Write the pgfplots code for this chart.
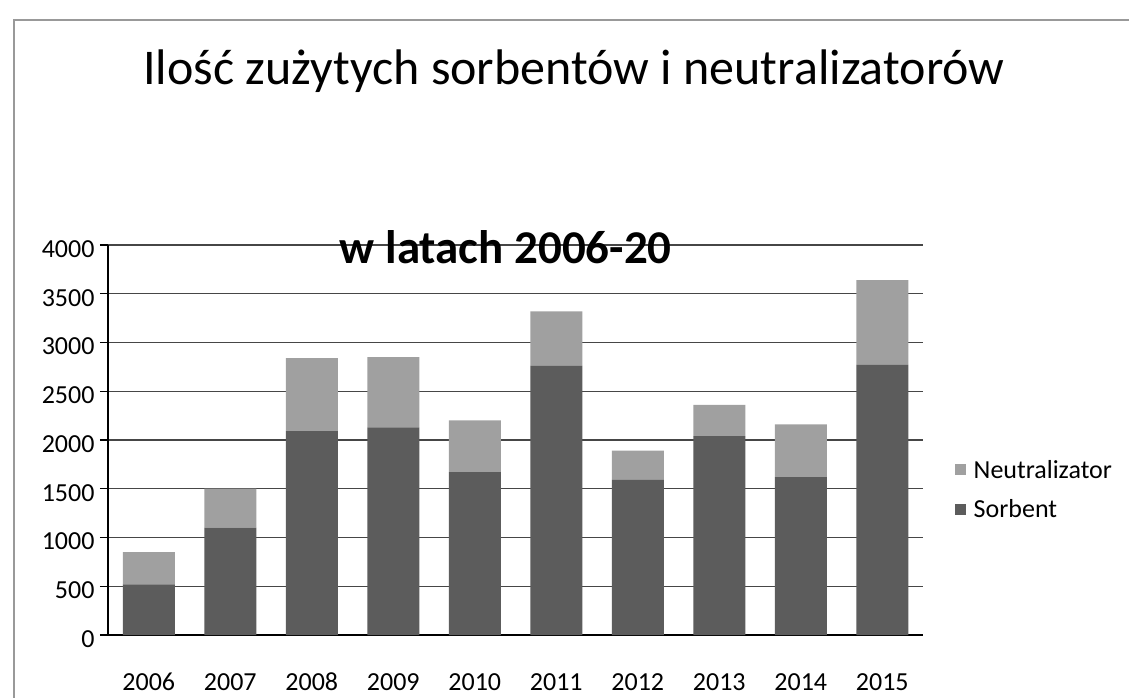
\documentclass[border=0pt]{standalone}
\usepackage{fontspec}
\setmainfont{Carlito}
\usepackage{pgfplots}
\pgfplotsset{compat=1.18}
\definecolor{sorb}{RGB}{92,92,92}
\definecolor{neut}{RGB}{160,160,160}
\definecolor{gridc}{RGB}{70,70,70}
\begin{document}
\begin{tikzpicture}
\useasboundingbox (0,0) rectangle (1129bp,698bp);
\fill[white] (0,0) rectangle (1129bp,698bp);
\draw[gray!80, line width=2bp] (14bp,0bp) -- (14bp,678bp) -- (1129bp,678bp);
\node[font=\fontsize{50bp}{58bp}\selectfont, anchor=base] at (574bp,613bp) {Ilość zużytych sorbentów i neutralizatorów};
\begin{axis}[
  at={(108bp,63bp)}, anchor=south west,
  scale only axis, width=815bp, height=390bp,
  ybar stacked, bar width=52bp,
  xmin=-0.5, xmax=9.5, ymin=0, ymax=4000,
  clip=false,
  xtick={0,...,9},
  xticklabels={2006,2007,2008,2009,2010,2011,2012,2013,2014,2015},
  ytick={0,500,...,4000},
  ymajorgrids, grid style={gridc, line width=1.2bp},
  axis x line*=bottom, axis y line*=left,
  axis line style={black, line width=1.5bp},
  x axis line style={-}, y axis line style={-},
  xtick style={draw=none},
  ytick style={black, line width=1.2bp},
  tick align=outside, major tick length=8bp,
  ticklabel style={font=\fontsize{26bp}{30bp}\selectfont},
  /pgf/number format/assume math mode=true,
  yticklabel={\pgfmathprintnumber[fixed, 1000 sep={}]{\tick}},
  yticklabel style={xshift=-2bp, yshift=-4bp},
  xticklabel style={yshift=-26bp, text height=18bp, text depth=0bp},
  legend style={at={(1.035,0.372)}, anchor=west, draw=none, fill=none,
    font=\fontsize{26bp}{30bp}\selectfont, row sep=16bp,
    legend cell align=left},
  legend image code/.code={\fill[#1] (0bp,-5bp) rectangle (11bp,6bp);},
  reverse legend,
]
\addplot[fill=sorb, draw=none] coordinates {(0,520) (1,1100) (2,2090) (3,2130) (4,1670) (5,2760) (6,1590) (7,2040) (8,1620) (9,2770)};
\addlegendentry{\hspace{6bp}Sorbent}
\addplot[fill=neut, draw=none] coordinates {(0,330) (1,400) (2,750) (3,720) (4,530) (5,560) (6,300) (7,320) (8,540) (9,870)};
\addlegendentry{\hspace{6bp}Neutralizator}
\node[font=\fontsize{47bp}{54bp}\selectfont\bfseries, anchor=base] at (axis cs:4.38,3815) {w latach 2006-20};
\end{axis}
\end{tikzpicture}
\end{document}
